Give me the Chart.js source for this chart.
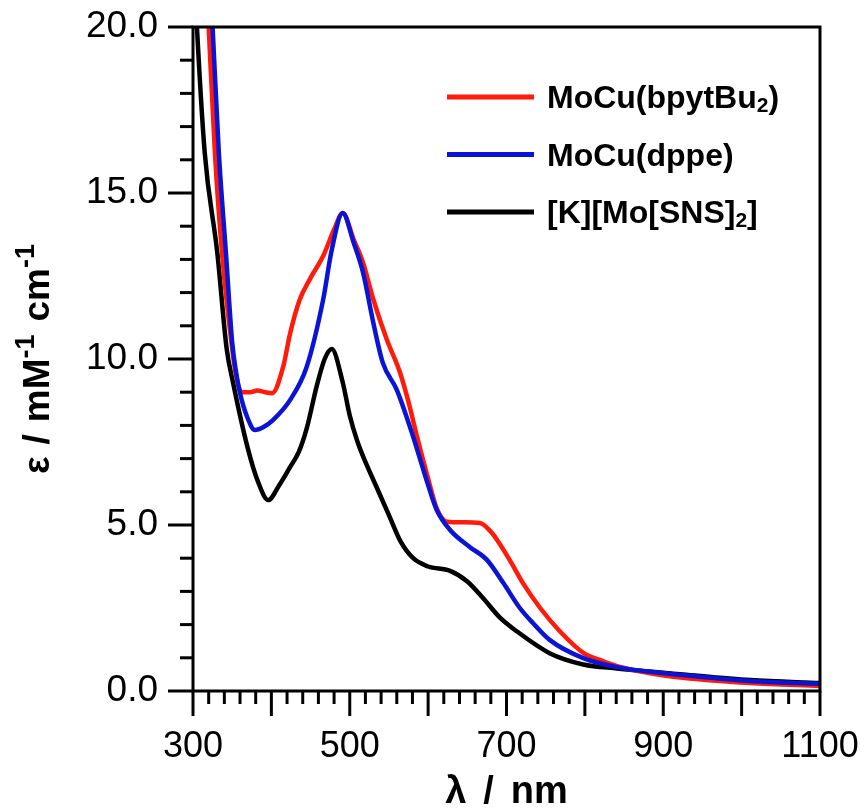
<!DOCTYPE html>
<html>
<head>
<meta charset="utf-8">
<script src="https://cdn.jsdelivr.net/npm/chart.js@4.4.1/dist/chart.umd.min.js"></script>
<style>
  html, body { margin: 0; padding: 0; background: #fff; }
  #wrap { width: 867px; height: 809px; position: relative; }
</style>
</head>
<body>
<div id="wrap"><canvas id="spectra"></canvas></div>
<script>
// wavelengths (nm) and extinction (mM-1 cm-1)
const blackNm  = [300, 305, 315, 331, 343, 351, 370, 383, 396, 410, 424, 435, 445, 458, 468, 477, 491, 500, 510, 520, 535, 550, 565, 581, 600, 628, 650, 670, 692, 713, 755, 798, 841, 925, 1011, 1100];
const blackEps = [22.5, 20.0, 16.2, 13.2, 10.3, 9.3, 7.3, 6.3, 5.75, 6.2, 6.75, 7.2, 7.9, 9.2, 10.0, 10.3, 9.3, 8.3, 7.5, 6.9, 6.1, 5.3, 4.5, 4.0, 3.75, 3.62, 3.3, 2.8, 2.2, 1.8, 1.14, 0.8, 0.68, 0.5, 0.33, 0.24];

const redNm  = [300, 310, 320, 328, 337, 350, 355, 362, 373, 382, 392, 401, 415, 424, 436, 449, 466, 480, 491, 505, 517, 530, 547, 564, 575, 586, 600, 611, 624, 645, 666, 680, 688, 704, 721, 743, 768, 798, 823, 841, 880, 925, 1011, 1100];
const redEps = [29.5, 24.7, 20.0, 16.2, 13.2, 10.3, 9.5, 9.0, 9.0, 9.05, 9.0, 8.97, 9.76, 10.78, 11.78, 12.4, 13.1, 13.9, 14.4, 13.6, 12.9, 11.8, 10.6, 9.6, 8.7, 7.65, 6.4, 5.5, 5.1, 5.08, 5.06, 4.8, 4.55, 3.95, 3.25, 2.5, 1.8, 1.15, 0.9, 0.75, 0.55, 0.4, 0.24, 0.15];

const blueNm  = [300, 315, 325, 333, 342, 350, 355, 360, 370, 379, 390, 402, 424, 445, 466, 477, 491, 505, 517, 530, 542, 560, 581, 590, 600, 611, 628, 653, 675, 696, 717, 734, 755, 798, 841, 925, 1011, 1100];
const blueEps = [32, 24.75, 20.0, 16.2, 13.2, 10.5, 9.6, 8.97, 8.2, 7.86, 7.95, 8.16, 8.77, 9.76, 11.78, 13.28, 14.4, 13.5, 12.6, 11.1, 9.9, 9.07, 7.65, 6.96, 6.2, 5.45, 4.85, 4.34, 3.95, 3.25, 2.5, 2.04, 1.54, 0.99, 0.72, 0.48, 0.3, 0.22];

const xTickLabels = [300, 500, 700, 900, 1100];
const yTickLabels = [0, 5, 10, 15, 20];

const FONT = '"Liberation Sans", Arial, Helvetica, sans-serif';
const RED = '#ff1a0a';
const BLUE = '#0a14d6';
const BLACK = '#000000';

const legendItems = [
    { color: RED,   parts: [{ t: 'MoCu(bpytBu' }, { t: '2', sub: true }, { t: ')' }] },
    { color: BLUE,  parts: [{ t: 'MoCu(dppe)' }] },
    { color: BLACK, parts: [{ t: '[K][Mo[SNS]' }, { t: '2', sub: true }, { t: ']' }] }
];

function pairs(xs, ys) {
    return xs.map((x, i) => ({ x: x, y: ys[i] }));
}

// text made of normal / sub / sup pieces, plus optional gaps in px
function partFont(p, size) {
    if (p.sup) return 'bold ' + Math.round(size * 0.72) + 'px ' + FONT;
    if (p.sub) return 'bold ' + Math.round(size * 0.66) + 'px ' + FONT;
    return 'bold ' + size + 'px ' + FONT;
}
function richWidth(ctx, parts, size) {
    let w = 0;
    parts.forEach(p => {
        if (p.gap) { w += p.gap; return; }
        ctx.font = partFont(p, size);
        w += ctx.measureText(p.t).width;
    });
    return w;
}
function drawRich(ctx, parts, x, y, size) {
    ctx.textBaseline = 'alphabetic';
    ctx.textAlign = 'left';
    parts.forEach(p => {
        if (p.gap) { x += p.gap; return; }
        ctx.font = partFont(p, size);
        let dy = 0;
        if (p.sub) dy = size * 0.12;
        if (p.sup) dy = -size * 0.4;
        ctx.fillText(p.t, x, y + dy);
        x += ctx.measureText(p.t).width;
    });
}

const decorations = {
    id: 'decorations',
    afterDraw(chart) {
        const ctx = chart.ctx;
        const a = chart.chartArea;
        const xs = chart.scales.x;
        const ys = chart.scales.y;
        ctx.save();
        ctx.strokeStyle = '#000';
        ctx.lineWidth = 3;

        // tick marks outside the frame
        xs.ticks.forEach(t => {
            const px = xs.getPixelForValue(t.value);
            const len = t.value % 100 === 0 ? 25 : 13;
            ctx.beginPath();
            ctx.moveTo(px, a.bottom);
            ctx.lineTo(px, a.bottom + len);
            ctx.stroke();
        });
        ys.ticks.forEach(t => {
            const py = ys.getPixelForValue(t.value);
            const len = t.value % 5 === 0 ? 25 : 13;
            ctx.beginPath();
            ctx.moveTo(a.left, py);
            ctx.lineTo(a.left - len, py);
            ctx.stroke();
        });
        ctx.strokeRect(a.left, a.top, a.right - a.left, a.bottom - a.top);

        // legend
        const lx = 447, ly = 97, gap = 57.5;
        legendItems.forEach((item, i) => {
            const y = ly + i * gap;
            ctx.strokeStyle = item.color;
            ctx.lineWidth = 5;
            ctx.beginPath();
            ctx.moveTo(lx, y);
            ctx.lineTo(lx + 87, y);
            ctx.stroke();
            ctx.fillStyle = '#000';
            drawRich(ctx, item.parts, lx + 100, y + 11, 32);
        });

        // axis titles
        ctx.fillStyle = '#000';
        const xt = [{ t: 'λ' }, { gap: 17 }, { t: '/' }, { gap: 17 }, { t: 'nm' }];
        const xw = richWidth(ctx, xt, 38);
        drawRich(ctx, xt, (a.left + a.right) / 2 - xw / 2, 803, 38);

        const yt = [{ t: 'ε' }, { gap: 12 }, { t: '/' }, { gap: 12 }, { t: 'mM' }, { t: '-1', sup: true },
                    { gap: 13 }, { t: 'cm' }, { t: '-1', sup: true }];
        const yw = richWidth(ctx, yt, 37);
        ctx.translate(49, (a.top + a.bottom) / 2);
        ctx.rotate(-Math.PI / 2);
        drawRich(ctx, yt, -yw / 2, 0, 37);
        ctx.restore();
    }
};

function series(label, xs, ys, color, order) {
    return {
        label: label,
        data: pairs(xs, ys),
        borderColor: color,
        borderWidth: 4.5,
        pointRadius: 0,
        fill: false,
        cubicInterpolationMode: 'monotone',
        order: order
    };
}

new Chart(document.getElementById('spectra'), {
    type: 'line',
    data: {
        datasets: [
            series('[K][Mo[SNS]2]', blackNm, blackEps, BLACK, 2),
            series('MoCu(dppe)', blueNm, blueEps, BLUE, 0),
            series('MoCu(bpytBu2)', redNm, redEps, RED, 1)
        ]
    },
    options: {
        responsive: true,
        maintainAspectRatio: false,
        animation: false,
        layout: { padding: { top: 27, right: 47, left: 0, bottom: 0 } },
        plugins: { legend: { display: false }, tooltip: { enabled: false } },
        scales: {
            x: {
                type: 'linear',
                min: 300,
                max: 1100,
                afterFit: s => { s.height = 118; s.paddingLeft = 0; s.paddingRight = 0; },
                grid: { display: false, drawTicks: false },
                border: { display: false },
                ticks: {
                    stepSize: 20,
                    autoSkip: false,
                    maxRotation: 0,
                    padding: 34,
                    color: '#000',
                    font: { family: FONT, size: 36 },
                    callback: v => xTickLabels.includes(v) ? String(v) : ''
                }
            },
            y: {
                min: 0,
                max: 20,
                afterFit: s => { s.width = 193; s.paddingTop = 0; s.paddingBottom = 0; },
                grid: { display: false, drawTicks: false },
                border: { display: false },
                ticks: {
                    stepSize: 1,
                    autoSkip: false,
                    padding: 35,
                    color: '#000',
                    font: { family: FONT, size: 37 },
                    callback: v => yTickLabels.includes(v) ? v.toFixed(1) : ''
                }
            }
        }
    },
    plugins: [decorations]
});
</script>
</body>
</html>
